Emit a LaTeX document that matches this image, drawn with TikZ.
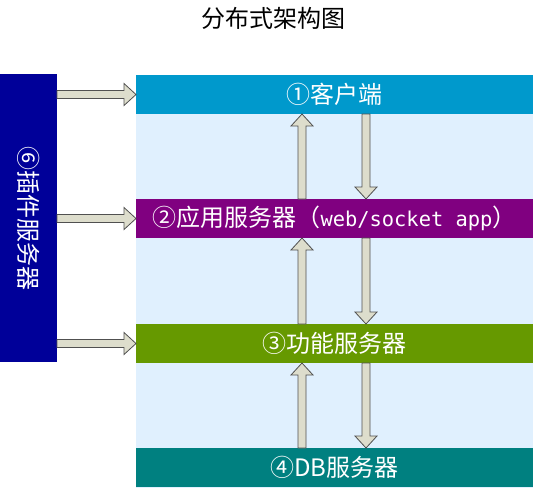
\documentclass[tikz,border=0pt]{standalone}
\usepackage{fontspec}
\setmainfont{Noto Sans CJK SC}
\newfontfamily\monofont[Scale=0.85]{DejaVu Sans Mono}
\usetikzlibrary{calc}
\usetikzlibrary{arrows, arrows.meta}

\definecolor{clientblue}{RGB}{0,153,204}
\definecolor{apppurple}{RGB}{128,0,128}
\definecolor{funcgreen}{RGB}{102,153,0}
\definecolor{dbteal}{RGB}{0,128,128}
\definecolor{pluginnavy}{RGB}{0,0,153}
\definecolor{layerbg}{RGB}{224,240,254}
\definecolor{arrfill}{RGB}{221,221,204}
\definecolor{arrline}{RGB}{80,80,80}

\tikzset{
    layer/.style={anchor=north west, inner sep=0pt, outer sep=0pt, minimum width=397pt, minimum height=39pt, text=white, font=\fontsize{24}{24}\selectfont},
    blockarr/.style={draw=arrline, fill=arrfill, line width=0.8pt, line join=miter}
}

% fat arrow from #1 to #2
\newcommand{\blockarrow}[2]{%
    \draw[blockarr] let \p1=(#1), \p2=(#2), \n1={veclen(\x2-\x1,\y2-\y1)}, \n2={atan2(\y2-\y1,\x2-\x1)} in
        [shift={(\p1)}, rotate=\n2]
        (0,-4) -- (\n1-12,-4) -- (\n1-12,-11) -- (\n1,0) -- (\n1-12,11) -- (\n1-12,4) -- (0,4) -- cycle;
}

\begin{document}
\begin{tikzpicture}[x=1pt, y=-1pt]
    \useasboundingbox (0,0) rectangle (533,488);
    \node[font=\fontsize{24}{24}\selectfont] (title) at (273,18) {分布式架构图};
    \fill[layerbg] (136,75) rectangle (533,488);

    \node[layer, fill=clientblue] (client) at (136,75) {①客户端};
    \node[layer, fill=apppurple] (app) at (136,199) {②应用服务器（{\monofont web/socket app}）};
    \node[layer, fill=funcgreen] (func) at (136,324) {③功能服务器};
    \node[layer, fill=dbteal] (db) at (136,448) {④DB服务器};
    \node[anchor=north west, inner sep=0pt, outer sep=0pt, minimum width=57pt, minimum height=288pt, fill=pluginnavy] (plugin) at (0,74) {};
    \node[text=white, rotate=-90, font=\fontsize{24}{24}\selectfont] (pluginlabel) at (plugin.center) {⑥插件服务器};

    \coordinate (upx) at (302,0);
    \coordinate (dnx) at (366,0);

    % up and down between layers
    \blockarrow{app.north -| upx}{client.south -| upx}
    \blockarrow{client.south -| dnx}{app.north -| dnx}
    \blockarrow{func.north -| upx}{app.south -| upx}
    \blockarrow{app.south -| dnx}{func.north -| dnx}
    \blockarrow{db.north -| upx}{func.south -| upx}
    \blockarrow{func.south -| dnx}{db.north -| dnx}

    % plugin to layers
    \blockarrow{plugin.east |- client.west}{client.west}
    \blockarrow{plugin.east |- app.west}{app.west}
    \blockarrow{plugin.east |- func.west}{func.west}
\end{tikzpicture}
\end{document}
